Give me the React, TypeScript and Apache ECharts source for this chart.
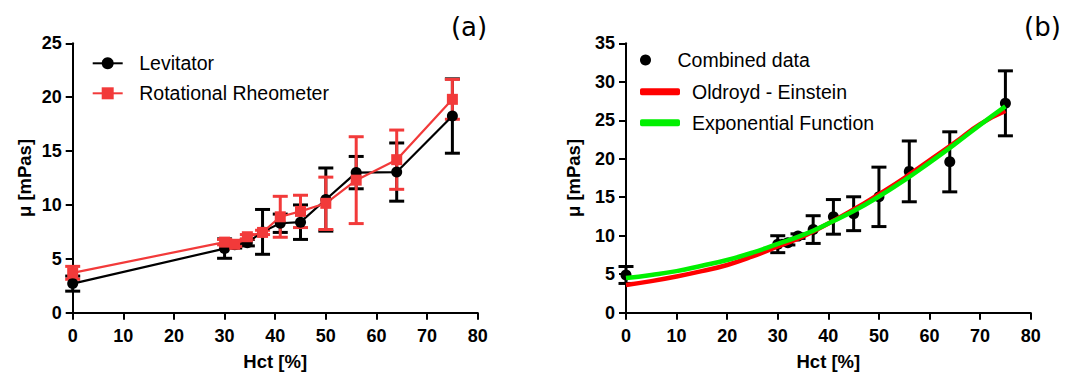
import React, { useEffect, useRef } from "react";
import * as echarts from "echarts";

// Panel (a)
const hctA = [0, 30, 32, 34.5, 37.5, 41, 45, 50, 56, 64, 75];
const levMean = [2.7, 5.95, 6.3, 6.5, 7.5, 8.3, 8.4, 10.5, 13.0, 13.05, 18.25];
const levErr = [0.7, 0.9, 0.3, 0.3, 2.08, 0.85, 1.6, 2.93, 1.5, 2.7, 3.45];
const rrMean = [3.7, 6.55, 6.35, 7.05, 7.45, 8.9, 9.4, 10.15, 12.3, 14.2, 19.8];
const rrErr = [0.6, 0.25, 0.2, 0.2, 0.2, 1.9, 1.5, 2.43, 4.03, 2.75, 1.85];

// Panel (b)
const hctB = [0, 30, 32, 34, 37, 41, 45, 50, 56, 64, 75];
const combMean = [4.9, 8.9, 9.1, 9.95, 10.8, 12.45, 12.86, 15.05, 18.36, 19.6, 27.2];
const combErr = [1.1, 1.1, 0.3, 0.3, 1.8, 2.25, 2.2, 3.86, 3.95, 3.9, 4.22];
const curveX = [0, 5, 10, 15, 20, 25, 30, 35, 40, 45, 50, 55, 60, 65, 70, 75];
const oldroyd = [3.6, 4.1, 4.7, 5.4, 6.2, 7.3, 8.6, 9.9, 11.6, 13.4, 15.4, 17.5, 19.8, 22.1, 24.5, 26.2];
const expo = [4.5, 4.9, 5.4, 6.1, 6.85, 7.8, 8.95, 10.1, 11.6, 13.2, 15.1, 17.2, 19.5, 21.9, 24.4, 26.8];

const xTicks = [0, 10, 20, 30, 40, 50, 60, 70, 80];

const BLACK = "#000000";
const RED_A = "#f23a3a";
const RED_B = "#ff0000";
const GREEN_B = "#00f000";
const FONT = "'Liberation Sans', Arial, sans-serif";

function errorSeries(idx: number, xs: number[], mean: number[], err: number[], color: string, capW: number, lw: number) {
  return {
    type: "custom",
    xAxisIndex: idx,
    yAxisIndex: idx,
    silent: true,
    data: xs.map((v, i) => [v, mean[i] - err[i], mean[i] + err[i]]),
    encode: { x: 0, y: [1, 2] },
    renderItem: (_p: any, api: any) => {
      const lo = api.coord([api.value(0), api.value(1)]);
      const hi = api.coord([api.value(0), api.value(2)]);
      const style = { stroke: color, lineWidth: lw };
      return {
        type: "group",
        children: [
          { type: "line", shape: { x1: lo[0], y1: lo[1], x2: hi[0], y2: hi[1] }, style },
          { type: "line", shape: { x1: lo[0] - capW / 2, y1: lo[1], x2: lo[0] + capW / 2, y2: lo[1] }, style },
          { type: "line", shape: { x1: hi[0] - capW / 2, y1: hi[1], x2: hi[0] + capW / 2, y2: hi[1] }, style },
        ],
      };
    },
  };
}

function xAxisDef(idx: number) {
  return {
    type: "value",
    gridIndex: idx,
    min: xTicks[0],
    max: xTicks[xTicks.length - 1],
    interval: 10,
    name: "Hct [%]",
    nameLocation: "middle",
    nameGap: 39,
    nameTextStyle: { fontFamily: FONT, fontWeight: "bold", fontSize: 18.5, color: "#000" },
    axisLine: { show: true, lineStyle: { color: "#000", width: 2 } },
    axisTick: { show: true, length: 7, lineStyle: { color: "#000", width: 2 } },
    axisLabel: { fontFamily: FONT, fontWeight: "bold", fontSize: 18, color: "#000", margin: 14 },
    splitLine: { show: false },
  };
}

function yAxisDef(idx: number, max: number, gap: number) {
  return {
    type: "value",
    gridIndex: idx,
    min: 0,
    max,
    interval: 5,
    name: "μ [mPas]",
    nameLocation: "middle",
    nameGap: gap,
    nameTextStyle: { fontFamily: FONT, fontWeight: "bold", fontSize: 18.5, color: "#000" },
    axisLine: { show: true, lineStyle: { color: "#000", width: 2 } },
    axisTick: { show: true, length: 7, lineStyle: { color: "#000", width: 2 } },
    axisLabel: { fontFamily: FONT, fontWeight: "bold", fontSize: 18, color: "#000", margin: 11 },
    splitLine: { show: false },
  };
}

export default function App() {
  const ref = useRef<HTMLDivElement>(null);
  useEffect(() => {
    document.body.style.margin = "0";
    if (!ref.current) return;
    const chart = echarts.init(ref.current, undefined, { renderer: "svg" });
    const legendText = (padLeft: number) => ({
      fontFamily: FONT,
      fontSize: 19.5,
      color: "#000",
      lineHeight: 20,
      padding: [0, 0, 0, padLeft],
    });
    chart.setOption({
      animation: false,
      backgroundColor: "#ffffff",
      grid: [
        { left: 72.7, top: 43.3, width: 405, height: 269.4 },
        { left: 626, top: 43.3, width: 404.7, height: 269.4 },
      ],
      xAxis: [xAxisDef(0), xAxisDef(1)],
      yAxis: [yAxisDef(0, 25, 39), yAxisDef(1, 35, 43)],
      legend: [
        {
          data: ["Levitator", "Rotational Rheometer"],
          orient: "vertical",
          left: 91.7,
          top: 53.3,
          padding: 0,
          itemWidth: 30,
          itemHeight: 15,
          itemGap: 10,
          textStyle: legendText(11.5),
        },
        {
          data: [{ name: "Combined data", icon: "circle" }],
          orient: "vertical",
          left: 640,
          top: 50,
          padding: 0,
          itemWidth: 40,
          itemHeight: 11,
          itemStyle: { opacity: 1 },
          textStyle: legendText(7),
        },
        {
          data: [
            { name: "Oldroyd - Einstein", icon: "roundRect" },
            { name: "Exponential Function", icon: "roundRect" },
          ],
          orient: "vertical",
          left: 640,
          top: 81.7,
          padding: 0,
          itemWidth: 40,
          itemHeight: 7,
          itemGap: 11,
          textStyle: legendText(7),
        },
      ],
      graphic: [
        {
          type: "text",
          x: 469,
          y: 27,
          style: { text: "(a)", font: "26px 'DejaVu Sans'", fill: "#000", textAlign: "center", textVerticalAlign: "middle" },
        },
        {
          type: "text",
          x: 1042.5,
          y: 27,
          style: { text: "(b)", font: "26px 'DejaVu Sans'", fill: "#000", textAlign: "center", textVerticalAlign: "middle" },
        },
      ],
      series: [
        errorSeries(0, hctA, levMean, levErr, BLACK, 15, 3),
        {
          name: "Levitator",
          type: "line",
          xAxisIndex: 0,
          yAxisIndex: 0,
          data: hctA.map((v, i) => [v, levMean[i]]),
          symbol: "circle",
          symbolSize: 11,
          color: BLACK,
          lineStyle: { color: BLACK, width: 2.2 },
          itemStyle: { color: BLACK },
        },
        errorSeries(0, hctA, rrMean, rrErr, RED_A, 15, 3),
        {
          name: "Rotational Rheometer",
          type: "line",
          xAxisIndex: 0,
          yAxisIndex: 0,
          data: hctA.map((v, i) => [v, rrMean[i]]),
          symbol: "rect",
          symbolSize: 11,
          color: RED_A,
          lineStyle: { color: RED_A, width: 2.2 },
          itemStyle: { color: RED_A },
        },
        errorSeries(1, hctB, combMean, combErr, BLACK, 15, 3),
        {
          name: "Combined data",
          type: "scatter",
          xAxisIndex: 1,
          yAxisIndex: 1,
          data: hctB.map((v, i) => [v, combMean[i]]),
          symbol: "circle",
          symbolSize: 11,
          color: BLACK,
          itemStyle: { color: BLACK, opacity: 1 },
        },
        {
          name: "Oldroyd - Einstein",
          type: "line",
          xAxisIndex: 1,
          yAxisIndex: 1,
          data: curveX.map((v, i) => [v, oldroyd[i]]),
          smooth: true,
          showSymbol: false,
          symbol: "none",
          color: RED_B,
          lineStyle: { color: RED_B, width: 4.5 },
          itemStyle: { color: RED_B },
        },
        {
          name: "Exponential Function",
          type: "line",
          xAxisIndex: 1,
          yAxisIndex: 1,
          data: curveX.map((v, i) => [v, expo[i]]),
          smooth: true,
          showSymbol: false,
          symbol: "none",
          color: GREEN_B,
          lineStyle: { color: GREEN_B, width: 4.5 },
          itemStyle: { color: GREEN_B },
        },
      ],
    });
    return () => chart.dispose();
  }, []);
  return <div ref={ref} style={{ width: 1078, height: 378 }} />;
}
